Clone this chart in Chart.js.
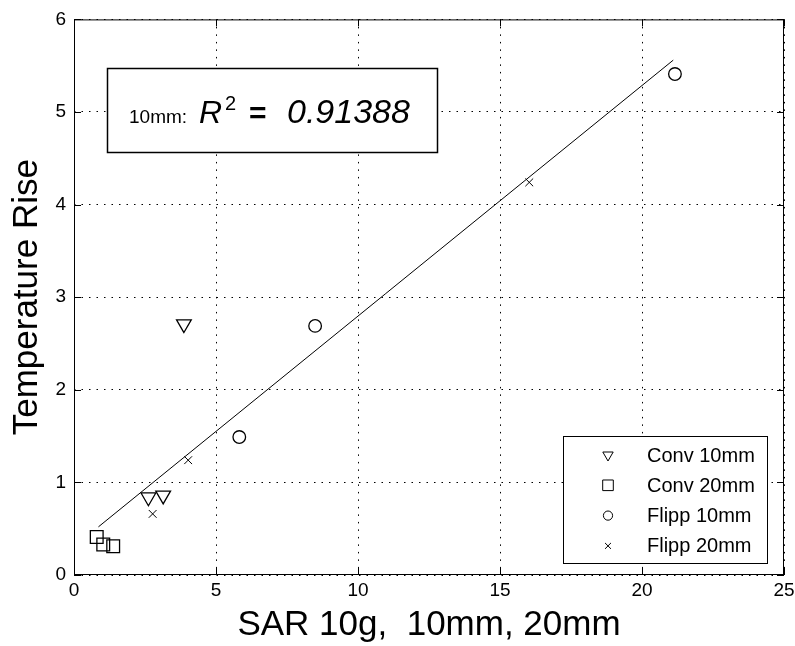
<!DOCTYPE html>
<html>
<head>
<meta charset="utf-8">
<script src="https://cdn.jsdelivr.net/npm/chart.js@4/dist/chart.umd.min.js"></script>
<style>
  body { margin: 0; background: #fff; }
  #wrap { width: 795px; height: 646px; }
</style>
</head>
<body>
<div id="wrap"><canvas id="sarChart"></canvas></div>
<script>
// ------------------- DATOS -------------------
const seriesLabels = ['Conv 10mm', 'Conv 20mm', 'Flipp 10mm', 'Flipp 20mm'];

const conv10X = [3.87, 2.62, 3.14];
const conv10Y = [2.71, 0.84, 0.86];
const conv20X = [0.80, 1.03, 1.38];
const conv20Y = [0.41, 0.33, 0.31];
const flipp10X = [5.82, 8.49, 21.16];
const flipp10Y = [1.49, 2.69, 5.41];
const flipp20X = [2.77, 4.02, 16.03];
const flipp20Y = [0.66, 1.24, 4.24];

// recta de ajuste (extremos)
const fitX = [0.86, 21.10];
const fitY = [0.52, 5.56];

const xTicks = [0, 5, 10, 15, 20, 25];
const yTicks = [0, 1, 2, 3, 4, 5, 6];

const fitLabel = '10mm:';
const rSquared = '0.91388';

const xTitle = 'SAR 10g,  10mm, 20mm';
const yTitle = 'Temperature Rise';

// ------------------- FUNCIONES -------------------
const toPoints = (xs, ys) => xs.map((x, i) => ({ x, y: ys[i] }));

const FONT = '"Liberation Sans", Arial, sans-serif';

// estilos de marcador por serie (plot / leyenda)
const markers = [
    { pointStyle: 'triangle', rotation: 180, radius: 8.5, legendRadius: 6 },
    { pointStyle: 'rect', rotation: 0, radius: 9, legendRadius: 7.5 },
    { pointStyle: 'circle', rotation: 0, radius: 6.3, legendRadius: 4.6 },
    { pointStyle: 'crossRot', rotation: 0, radius: 5.5, legendRadius: 4.2 }
];

const seriesData = [
    toPoints(conv10X, conv10Y),
    toPoints(conv20X, conv20Y),
    toPoints(flipp10X, flipp10Y),
    toPoints(flipp20X, flipp20Y)
];

const datasets = seriesLabels.map((label, i) => ({
    label,
    data: seriesData[i],
    showLine: false,
    pointStyle: markers[i].pointStyle,
    rotation: markers[i].rotation,
    pointRadius: markers[i].radius,
    pointHoverRadius: markers[i].radius,
    borderColor: '#000',
    backgroundColor: 'rgba(0,0,0,0)',
    pointBorderWidth: i === 3 ? 1 : 1.3
}));

datasets.push({
    label: 'fit',
    data: toPoints(fitX, fitY),
    showLine: true,
    pointRadius: 0,
    borderColor: '#000',
    borderWidth: 1,
    backgroundColor: 'rgba(0,0,0,0)'
});

// Marco, ticks internos, cuadro R^2 y leyenda estilo MATLAB
const matlabDecor = {
    id: 'matlabDecor',
    afterDraw(chart) {
        const { ctx, chartArea: a, scales } = chart;
        const xs = scales.x, ys = scales.y;
        ctx.save();
        ctx.strokeStyle = '#000';
        ctx.lineWidth = 1;

        // caja
        ctx.strokeRect(a.left + 0.5, a.top + 0.5, a.right - a.left - 1, a.bottom - a.top - 1);

        // ticks hacia adentro
        const tl = 7;
        ctx.beginPath();
        xTicks.forEach(v => {
            const px = Math.round(xs.getPixelForValue(v)) + 0.5;
            ctx.moveTo(px, a.bottom); ctx.lineTo(px, a.bottom - tl);
            ctx.moveTo(px, a.top); ctx.lineTo(px, a.top + tl);
        });
        yTicks.forEach(v => {
            const py = Math.round(ys.getPixelForValue(v)) + 0.5;
            ctx.moveTo(a.left, py); ctx.lineTo(a.left + tl, py);
            ctx.moveTo(a.right, py); ctx.lineTo(a.right - tl, py);
        });
        ctx.stroke();

        // cuadro R^2
        ctx.fillStyle = '#fff';
        ctx.fillRect(107, 68, 331, 85);
        ctx.lineWidth = 1.5;
        ctx.strokeRect(107.5, 68.5, 330, 84);
        ctx.fillStyle = '#000';
        ctx.textAlign = 'left';
        ctx.textBaseline = 'alphabetic';
        ctx.font = '19px ' + FONT;
        ctx.fillText(fitLabel, 129, 123);
        ctx.font = 'italic 32px ' + FONT;
        ctx.fillText('R', 199, 123);
        ctx.font = '20px ' + FONT;
        ctx.fillText('2', 225, 110);
        ctx.font = 'bold 30px ' + FONT;
        ctx.fillText('=', 249, 123);
        ctx.font = 'italic 34px ' + FONT;
        ctx.fillText(rSquared, 287, 123);

        // leyenda
        const lx = 563, ly = 436, lw = 205, lh = 128;
        ctx.fillStyle = '#fff';
        ctx.fillRect(lx, ly, lw, lh);
        ctx.lineWidth = 1;
        ctx.strokeRect(lx + 0.5, ly + 0.5, lw - 1, lh - 1);
        ctx.font = '20px ' + FONT;
        ctx.textBaseline = 'middle';
        seriesLabels.forEach((label, i) => {
            const cy = 455 + i * 30.3;
            ctx.fillStyle = 'rgba(0,0,0,0)';
            ctx.strokeStyle = '#000';
            Chart.helpers.drawPoint(ctx, {
                pointStyle: markers[i].pointStyle,
                rotation: markers[i].rotation,
                radius: markers[i].legendRadius,
                borderWidth: 1.2
            }, 608, cy);
            ctx.fillStyle = '#000';
            ctx.fillText(label, 647, cy + 1);
        });
        ctx.restore();
    }
};

// ------------------- GRAFICO -------------------
const ctx = document.getElementById('sarChart').getContext('2d');

new Chart(ctx, {
    type: 'scatter',
    data: { datasets },
    plugins: [matlabDecor],
    options: {
        responsive: true,
        maintainAspectRatio: false,
        animation: false,
        layout: { padding: { top: 16, right: 0, left: 0, bottom: 0 } },
        plugins: {
            legend: { display: false },
            tooltip: { enabled: false }
        },
        scales: {
            x: {
                type: 'linear',
                min: 0,
                max: 25,
                afterBuildTicks: s => { s.ticks = xTicks.map(value => ({ value })); },
                afterFit: s => { s.height = 71; s.paddingRight = 11; },
                grid: { color: '#000', lineWidth: 1, drawTicks: false },
                border: { display: false, dash: [1.5, 6] },
                ticks: { color: '#000', padding: 4, font: { family: FONT, size: 19 } },
                title: {
                    display: true,
                    text: xTitle,
                    color: '#000',
                    padding: { top: 0, bottom: 0 },
                    font: { family: FONT, size: 35 }
                }
            },
            y: {
                type: 'linear',
                min: 0,
                max: 6,
                afterBuildTicks: s => { s.ticks = yTicks.map(value => ({ value })); },
                afterFit: s => { s.width = 74; },
                grid: { color: '#000', lineWidth: 1, drawTicks: false },
                border: { display: false, dash: [1.5, 6] },
                ticks: { color: '#000', padding: 8, font: { family: FONT, size: 19 } },
                title: {
                    display: true,
                    text: yTitle,
                    color: '#000',
                    padding: { top: 6, bottom: 0 },
                    font: { family: FONT, size: 35 }
                }
            }
        }
    }
});
</script>
</body>
</html>
